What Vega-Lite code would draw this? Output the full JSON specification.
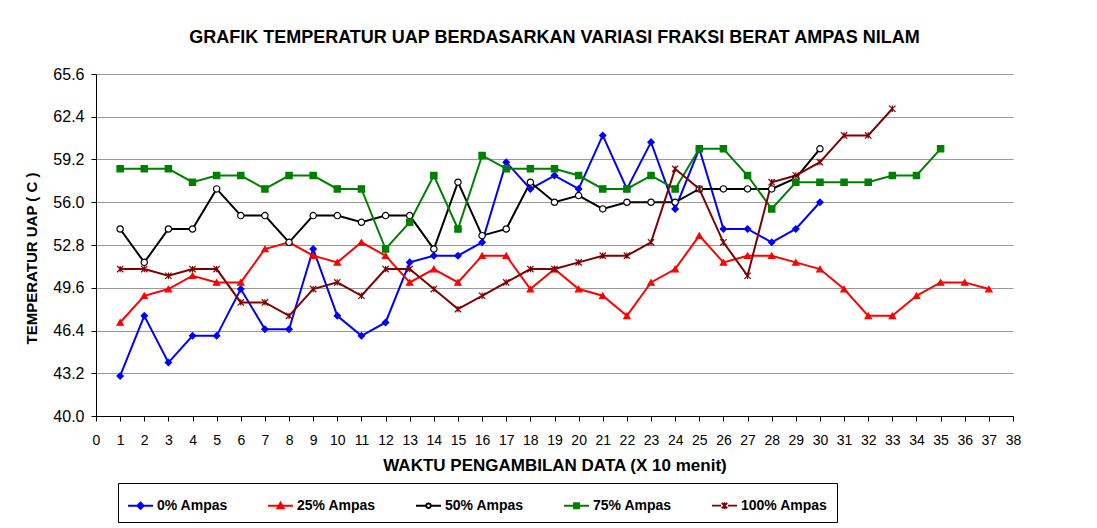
{
  "$schema": "https://vega.github.io/schema/vega-lite/v6.json",
  "width": 917,
  "height": 342,
  "autosize": "none",
  "padding": {"left": 96, "top": 74, "right": 84, "bottom": 112},
  "background": "white",
  "config": {
    "font": "Liberation Sans",
    "view": {"stroke": null},
    "axis": {"domainColor": "black", "tickColor": "black", "labelColor": "black", "titleColor": "black", "labelFont": "Liberation Sans", "titleFont": "Liberation Sans"},
    "legend": {
      "title": null, "orient": "none", "legendX": 22, "legendY": 409, "direction": "horizontal", "columns": 5,
      "strokeColor": "black", "fillColor": "white", "padding": 9, "columnPadding": 36,
      "labelFontSize": 14, "labelFontWeight": "bold", "labelColor": "black", "labelFont": "Liberation Sans", "labelOffset": 3,
      "symbolSize": 625, "symbolStrokeWidth": 1.8, "symbolOpacity": 1
    }
  },
  "title": {"text": "GRAFIK TEMPERATUR UAP BERDASARKAN VARIASI FRAKSI BERAT AMPAS NILAM", "fontSize": 18, "fontWeight": "bold", "font": "Liberation Sans", "color": "black", "offset": 19, "anchor": "middle"},
  "data": {"values": [
    {"x":1,"s":"0% Ampas","y":43.0},{"x":2,"s":"0% Ampas","y":47.5},{"x":3,"s":"0% Ampas","y":44.0},{"x":4,"s":"0% Ampas","y":46.0},{"x":5,"s":"0% Ampas","y":46.0},{"x":6,"s":"0% Ampas","y":49.5},{"x":7,"s":"0% Ampas","y":46.5},{"x":8,"s":"0% Ampas","y":46.5},{"x":9,"s":"0% Ampas","y":52.5},{"x":10,"s":"0% Ampas","y":47.5},{"x":11,"s":"0% Ampas","y":46.0},{"x":12,"s":"0% Ampas","y":47.0},{"x":13,"s":"0% Ampas","y":51.5},{"x":14,"s":"0% Ampas","y":52.0},{"x":15,"s":"0% Ampas","y":52.0},{"x":16,"s":"0% Ampas","y":53.0},{"x":17,"s":"0% Ampas","y":59.0},{"x":18,"s":"0% Ampas","y":57.0},{"x":19,"s":"0% Ampas","y":58.0},{"x":20,"s":"0% Ampas","y":57.0},{"x":21,"s":"0% Ampas","y":61.0},{"x":22,"s":"0% Ampas","y":57.0},{"x":23,"s":"0% Ampas","y":60.5},{"x":24,"s":"0% Ampas","y":55.5},{"x":25,"s":"0% Ampas","y":60.0},{"x":26,"s":"0% Ampas","y":54.0},{"x":27,"s":"0% Ampas","y":54.0},{"x":28,"s":"0% Ampas","y":53.0},{"x":29,"s":"0% Ampas","y":54.0},{"x":30,"s":"0% Ampas","y":56.0},
    {"x":1,"s":"25% Ampas","y":47.0},{"x":2,"s":"25% Ampas","y":49.0},{"x":3,"s":"25% Ampas","y":49.5},{"x":4,"s":"25% Ampas","y":50.5},{"x":5,"s":"25% Ampas","y":50.0},{"x":6,"s":"25% Ampas","y":50.0},{"x":7,"s":"25% Ampas","y":52.5},{"x":8,"s":"25% Ampas","y":53.0},{"x":9,"s":"25% Ampas","y":52.0},{"x":10,"s":"25% Ampas","y":51.5},{"x":11,"s":"25% Ampas","y":53.0},{"x":12,"s":"25% Ampas","y":52.0},{"x":13,"s":"25% Ampas","y":50.0},{"x":14,"s":"25% Ampas","y":51.0},{"x":15,"s":"25% Ampas","y":50.0},{"x":16,"s":"25% Ampas","y":52.0},{"x":17,"s":"25% Ampas","y":52.0},{"x":18,"s":"25% Ampas","y":49.5},{"x":19,"s":"25% Ampas","y":51.0},{"x":20,"s":"25% Ampas","y":49.5},{"x":21,"s":"25% Ampas","y":49.0},{"x":22,"s":"25% Ampas","y":47.5},{"x":23,"s":"25% Ampas","y":50.0},{"x":24,"s":"25% Ampas","y":51.0},{"x":25,"s":"25% Ampas","y":53.5},{"x":26,"s":"25% Ampas","y":51.5},{"x":27,"s":"25% Ampas","y":52.0},{"x":28,"s":"25% Ampas","y":52.0},{"x":29,"s":"25% Ampas","y":51.5},{"x":30,"s":"25% Ampas","y":51.0},{"x":31,"s":"25% Ampas","y":49.5},{"x":32,"s":"25% Ampas","y":47.5},{"x":33,"s":"25% Ampas","y":47.5},{"x":34,"s":"25% Ampas","y":49.0},{"x":35,"s":"25% Ampas","y":50.0},{"x":36,"s":"25% Ampas","y":50.0},{"x":37,"s":"25% Ampas","y":49.5},
    {"x":1,"s":"50% Ampas","y":54.0},{"x":2,"s":"50% Ampas","y":51.5},{"x":3,"s":"50% Ampas","y":54.0},{"x":4,"s":"50% Ampas","y":54.0},{"x":5,"s":"50% Ampas","y":57.0},{"x":6,"s":"50% Ampas","y":55.0},{"x":7,"s":"50% Ampas","y":55.0},{"x":8,"s":"50% Ampas","y":53.0},{"x":9,"s":"50% Ampas","y":55.0},{"x":10,"s":"50% Ampas","y":55.0},{"x":11,"s":"50% Ampas","y":54.5},{"x":12,"s":"50% Ampas","y":55.0},{"x":13,"s":"50% Ampas","y":55.0},{"x":14,"s":"50% Ampas","y":52.5},{"x":15,"s":"50% Ampas","y":57.5},{"x":16,"s":"50% Ampas","y":53.5},{"x":17,"s":"50% Ampas","y":54.0},{"x":18,"s":"50% Ampas","y":57.5},{"x":19,"s":"50% Ampas","y":56.0},{"x":20,"s":"50% Ampas","y":56.5},{"x":21,"s":"50% Ampas","y":55.5},{"x":22,"s":"50% Ampas","y":56.0},{"x":23,"s":"50% Ampas","y":56.0},{"x":24,"s":"50% Ampas","y":56.0},{"x":25,"s":"50% Ampas","y":57.0},{"x":26,"s":"50% Ampas","y":57.0},{"x":27,"s":"50% Ampas","y":57.0},{"x":28,"s":"50% Ampas","y":57.0},{"x":29,"s":"50% Ampas","y":57.8},{"x":30,"s":"50% Ampas","y":60.0},
    {"x":1,"s":"75% Ampas","y":58.5},{"x":2,"s":"75% Ampas","y":58.5},{"x":3,"s":"75% Ampas","y":58.5},{"x":4,"s":"75% Ampas","y":57.5},{"x":5,"s":"75% Ampas","y":58.0},{"x":6,"s":"75% Ampas","y":58.0},{"x":7,"s":"75% Ampas","y":57.0},{"x":8,"s":"75% Ampas","y":58.0},{"x":9,"s":"75% Ampas","y":58.0},{"x":10,"s":"75% Ampas","y":57.0},{"x":11,"s":"75% Ampas","y":57.0},{"x":12,"s":"75% Ampas","y":52.5},{"x":13,"s":"75% Ampas","y":54.5},{"x":14,"s":"75% Ampas","y":58.0},{"x":15,"s":"75% Ampas","y":54.0},{"x":16,"s":"75% Ampas","y":59.5},{"x":17,"s":"75% Ampas","y":58.5},{"x":18,"s":"75% Ampas","y":58.5},{"x":19,"s":"75% Ampas","y":58.5},{"x":20,"s":"75% Ampas","y":58.0},{"x":21,"s":"75% Ampas","y":57.0},{"x":22,"s":"75% Ampas","y":57.0},{"x":23,"s":"75% Ampas","y":58.0},{"x":24,"s":"75% Ampas","y":57.0},{"x":25,"s":"75% Ampas","y":60.0},{"x":26,"s":"75% Ampas","y":60.0},{"x":27,"s":"75% Ampas","y":58.0},{"x":28,"s":"75% Ampas","y":55.5},{"x":29,"s":"75% Ampas","y":57.5},{"x":30,"s":"75% Ampas","y":57.5},{"x":31,"s":"75% Ampas","y":57.5},{"x":32,"s":"75% Ampas","y":57.5},{"x":33,"s":"75% Ampas","y":58.0},{"x":34,"s":"75% Ampas","y":58.0},{"x":35,"s":"75% Ampas","y":60.0},
    {"x":1,"s":"100% Ampas","y":51.0},{"x":2,"s":"100% Ampas","y":51.0},{"x":3,"s":"100% Ampas","y":50.5},{"x":4,"s":"100% Ampas","y":51.0},{"x":5,"s":"100% Ampas","y":51.0},{"x":6,"s":"100% Ampas","y":48.5},{"x":7,"s":"100% Ampas","y":48.5},{"x":8,"s":"100% Ampas","y":47.5},{"x":9,"s":"100% Ampas","y":49.5},{"x":10,"s":"100% Ampas","y":50.0},{"x":11,"s":"100% Ampas","y":49.0},{"x":12,"s":"100% Ampas","y":51.0},{"x":13,"s":"100% Ampas","y":51.0},{"x":14,"s":"100% Ampas","y":49.5},{"x":15,"s":"100% Ampas","y":48.0},{"x":16,"s":"100% Ampas","y":49.0},{"x":17,"s":"100% Ampas","y":50.0},{"x":18,"s":"100% Ampas","y":51.0},{"x":19,"s":"100% Ampas","y":51.0},{"x":20,"s":"100% Ampas","y":51.5},{"x":21,"s":"100% Ampas","y":52.0},{"x":22,"s":"100% Ampas","y":52.0},{"x":23,"s":"100% Ampas","y":53.0},{"x":24,"s":"100% Ampas","y":58.5},{"x":25,"s":"100% Ampas","y":57.0},{"x":26,"s":"100% Ampas","y":53.0},{"x":27,"s":"100% Ampas","y":50.5},{"x":28,"s":"100% Ampas","y":57.5},{"x":29,"s":"100% Ampas","y":58.0},{"x":30,"s":"100% Ampas","y":59.0},{"x":31,"s":"100% Ampas","y":61.0},{"x":32,"s":"100% Ampas","y":61.0},{"x":33,"s":"100% Ampas","y":63.0}
  ]},
  "encoding": {
    "x": {"field": "x", "type": "quantitative", "scale": {"domain": [0, 38], "nice": false, "zero": false},
      "axis": {"values": [0,1,2,3,4,5,6,7,8,9,10,11,12,13,14,15,16,17,18,19,20,21,22,23,24,25,26,27,28,29,30,31,32,33,34,35,36,37,38], "grid": false, "labelAngle": 0, "labelFontSize": 14, "labelPadding": 12, "tickSize": 5, "title": "WAKTU PENGAMBILAN DATA (X 10 menit)", "titleFontSize": 17, "titleFontWeight": "bold", "titlePadding": 10, "labelFlush": false}},
    "y": {"field": "y", "type": "quantitative", "scale": {"domain": [40, 65.6], "nice": false, "zero": false},
      "axis": {"values": [40, 43.2, 46.4, 49.6, 52.8, 56, 59.2, 62.4, 65.6], "format": ".1f", "grid": true, "gridColor": "#999999", "gridWidth": 1.2, "labelFontSize": 16, "labelPadding": 7, "tickSize": 5, "title": "TEMPERATUR UAP ( C )", "titleFontSize": 15, "titleFontWeight": "bold", "titlePadding": 13, "titleY": 184, "labelFlush": false}}
  },
  "resolve": {"scale": {"stroke": "independent", "fill": "independent", "shape": "independent"}},
  "layer": [
    {
      "mark": {"type": "line", "strokeWidth": 2},
      "encoding": {
        "stroke": {"field": "s", "type": "nominal", "legend": null,
          "scale": {"domain": ["0% Ampas","25% Ampas","50% Ampas","75% Ampas","100% Ampas"], "range": ["#0000ff","#ff0000","#000000","#008000","#800000"]}}
      }
    },
    {
      "mark": {"type": "point", "size": 40, "strokeWidth": 1.2, "opacity": 1},
      "encoding": {
        "stroke": {"field": "s", "type": "nominal", "legend": null,
          "scale": {"domain": ["0% Ampas","25% Ampas","50% Ampas","75% Ampas","100% Ampas"], "range": ["#0000ff","#ff0000","#000000","#008000","#800000"]}},
        "fill": {"field": "s", "type": "nominal", "legend": null,
          "scale": {"domain": ["0% Ampas","25% Ampas","50% Ampas","75% Ampas","100% Ampas"], "range": ["#0000ff","#ff0000","#ffffff","#008000","#800000"]}},
        "shape": {"field": "s", "type": "nominal", "legend": null,
          "scale": {"domain": ["0% Ampas","25% Ampas","50% Ampas","75% Ampas","100% Ampas"], "range": ["diamond","triangle-up","circle","square","M-1,-1L1,1M-1,1L1,-1M0,-1L0,1"]}}
      }
    },
    {
      "mark": {"type": "point", "size": 0, "opacity": 0},
      "encoding": {
        "stroke": {"field": "s", "type": "nominal",
          "scale": {"domain": ["0% Ampas","25% Ampas","50% Ampas","75% Ampas","100% Ampas"], "range": ["#0000ff","#ff0000","#000000","#008000","#800000"]}},
        "fill": {"field": "s", "type": "nominal",
          "scale": {"domain": ["0% Ampas","25% Ampas","50% Ampas","75% Ampas","100% Ampas"], "range": ["#0000ff","#ff0000","#ffffff","#008000","#800000"]}},
        "shape": {"field": "s", "type": "nominal",
          "scale": {"domain": ["0% Ampas","25% Ampas","50% Ampas","75% Ampas","100% Ampas"], "range": [
            "M-1,0H1M0,-0.26L0.26,0L0,0.26L-0.26,0Z",
            "M-1,0H1M0,-0.26L0.26,0.2L-0.26,0.2Z",
            "M-1,0H-0.18M0.18,0H1M0.18,0A0.18,0.18 0 1 1 -0.18,0A0.18,0.18 0 1 1 0.18,0Z",
            "M-1,0H1M-0.2,-0.2H0.2V0.2H-0.2Z",
            "M-1,0H-0.28M0.28,0H1M-0.22,-0.22L0.22,0.22M-0.22,0.22L0.22,-0.22M0,-0.28V0.28"
          ]}}
      }
    }
  ]
}
